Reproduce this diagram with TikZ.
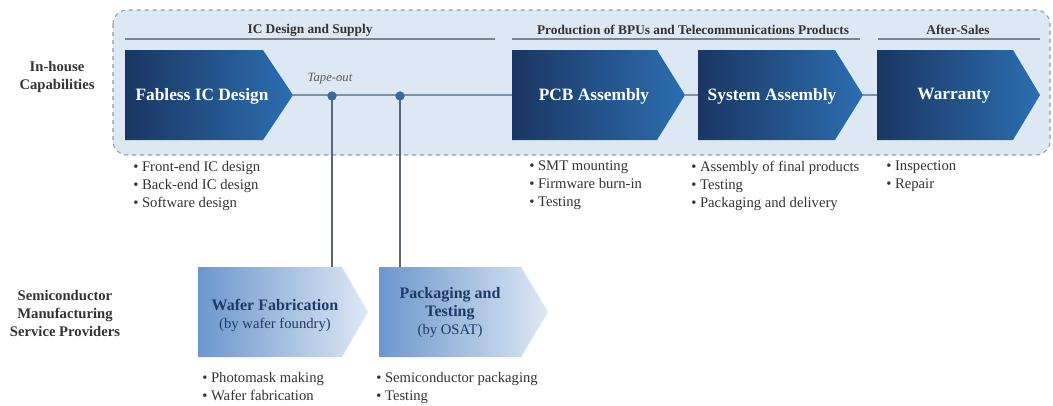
\documentclass[tikz,border=0pt]{standalone}
\usepackage{fontspec}
\setmainfont{Liberation Serif}
\usetikzlibrary{calc}
\definecolor{panel}{HTML}{DCE8F3}
\definecolor{panelborder}{HTML}{8C9BAA}
\definecolor{darkL}{HTML}{1B3663}
\definecolor{darkR}{HTML}{2C6EB0}
\definecolor{lightL}{HTML}{6C97CD}
\definecolor{lightR}{HTML}{DDE8F4}
\definecolor{linec}{HTML}{7E92A6}
\definecolor{vline}{HTML}{5A6675}
\definecolor{dotc}{HTML}{3A68A0}
\definecolor{txt}{HTML}{333333}
\definecolor{navy}{HTML}{1F3A66}
\tikzset{
  hdr/.style={font=\bfseries\fontsize{10}{12}\selectfont, text=txt, inner sep=0pt},
  hline/.style={draw=vline!80, line width=1.5pt},
  ctitle/.style={font=\bfseries\fontsize{13}{15}\selectfont, text=white, inner sep=0pt},
  ltitle/.style={font=\fontsize{11}{13.5}\selectfont, text=navy, inner sep=0pt, align=center},
  bullets/.style={font=\fontsize{11}{13.5}\selectfont, text=txt, inner sep=0pt, align=left, anchor=north west},
  side/.style={font=\bfseries\fontsize{11}{13.5}\selectfont, text=txt, inner sep=0pt, align=center},
  conn/.style={draw=linec, line width=1pt},
  vconn/.style={draw=vline, line width=1.2pt},
  dot/.style={circle, fill=dotc, inner sep=0pt, minimum size=6.75pt},
}
\begin{document}
\begin{tikzpicture}[x=0.75pt, y=-0.75pt]
\useasboundingbox (0,0) rectangle (1053,405);
% panel
\filldraw[fill=panel, draw=panelborder, dashed, line width=0.8pt, rounded corners=10.5pt] (113,10) rectangle (1050,155);
% headers
\node[hdr] (h1) at (310,30) {IC Design and Supply};
\node[hdr] (h2) at (693,30) {Production of BPUs and Telecommunications Products};
\node[hdr] (h3) at (958,30) {After-Sales};
\draw[hline] (125,39) -- (495,39);
\draw[hline] (512,39) -- (860,39);
\draw[hline] (878,39) -- (1040,39);
% side labels
\node[side] (inh) at (57,77) {In-house\\Capabilities};
\node[side] (smsp) at (65,313) {Semiconductor\\Manufacturing\\Service Providers};
% top chevrons
\shade[left color=darkL, right color=darkR] (125,50) -- (263,50) -- (293,95) -- (263,140) -- (125,140) -- cycle;
\shade[left color=darkL, right color=darkR] (512,50) -- (657,50) -- (685,95) -- (657,140) -- (512,140) -- cycle;
\shade[left color=darkL, right color=darkR] (698,50) -- (835,50) -- (863,95) -- (835,140) -- (698,140) -- cycle;
\shade[left color=darkL, right color=darkR] (877,50) -- (1013,50) -- (1040,95) -- (1013,140) -- (877,140) -- cycle;
\node[ctitle] (fab) at (202,96) {Fabless IC Design};
\node[ctitle] (pcb) at (594,96) {PCB Assembly};
\node[ctitle] (sys) at (772,96) {System Assembly};
\node[ctitle] (war) at (954,96) {Warranty};
\coordinate (fabtip) at (293,95);
\coordinate (pcbin) at (512,95);
\coordinate (pcbtip) at (685,95);
\coordinate (sysin) at (698,95);
\coordinate (systip) at (863,95);
\coordinate (warin) at (877,95);
% bottom chevrons
\shade[left color=lightL, right color=lightR] (198,267) -- (342,267) -- (368,312) -- (342,357) -- (198,357) -- cycle;
\shade[left color=lightL, right color=lightR] (379,267) -- (521,267) -- (548,312) -- (521,357) -- (379,357) -- cycle;
\node[ltitle] (waf) at (275,315) {{\bfseries\fontsize{12}{14}\selectfont Wafer Fabrication}\\(by wafer foundry)};
\node[ltitle] (pkg) at (450,313) {{\bfseries\fontsize{12}{14}\selectfont Packaging and}\\{\bfseries\fontsize{12}{14}\selectfont Testing}\\(by OSAT)};
\coordinate (waftop) at (332,267);
\coordinate (pkgtop) at (400,267);
% connectors
\draw[conn] (fabtip) -- (pcbin);
\draw[conn] (pcbtip) -- (sysin);
\draw[conn] (systip) -- (warin);
\node[dot] (d1) at (332,96) {};
\node[dot] (d2) at (400,96) {};
\draw[vconn] (d1.center) -- (waftop);
\draw[vconn] (d2.center) -- (pkgtop);
\node[dot] at (332,96) {};
\node[dot] at (400,96) {};
\node[font=\itshape\fontsize{9.5}{11}\selectfont, text=txt!80, inner sep=0pt] (tape) at (330,79) {Tape-out};
% bullet lists
\node[bullets] (b1) at (133,161) {• Front-end IC design\\• Back-end IC design\\• Software design};
\node[bullets] (b2) at (529,161) {• SMT mounting\\• Firmware burn-in\\• Testing};
\node[bullets] (b3) at (691,161) {• Assembly of final products\\• Testing\\• Packaging and delivery};
\node[bullets] (b4) at (886,161) {• Inspection\\• Repair};
\node[bullets] (b5) at (202,372) {• Photomask making\\• Wafer fabrication};
\node[bullets] (b6) at (376,372) {• Semiconductor packaging\\• Testing};
\end{tikzpicture}
\end{document}
